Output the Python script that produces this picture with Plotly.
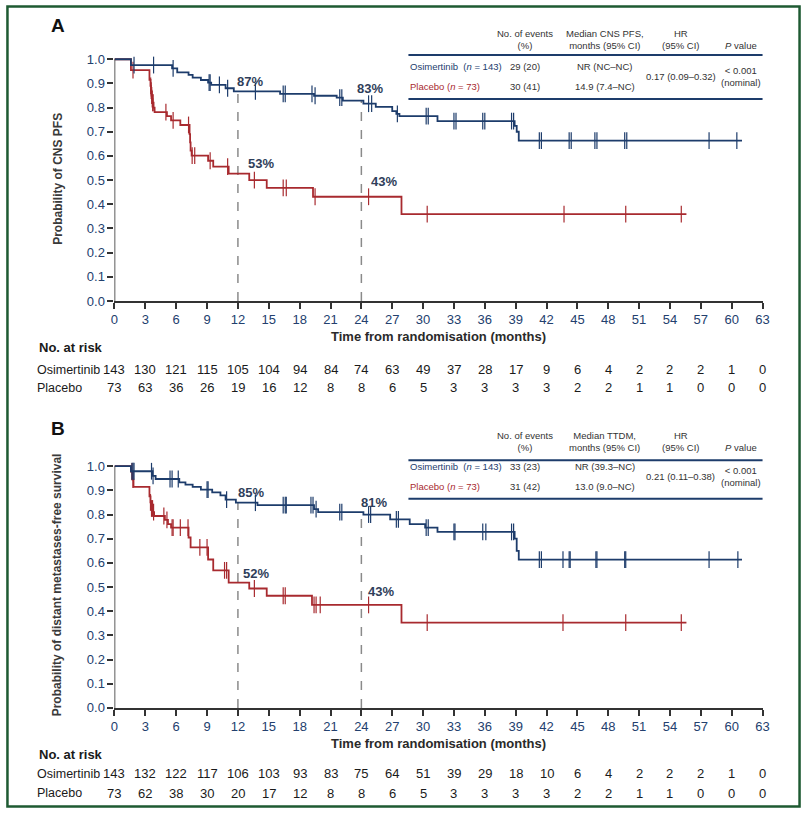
import plotly.graph_objects as go

W, H = 810, 818

# ---------------- data ----------------
month_ticks = list(range(0, 64, 3))
prob_ticks = [round(i * 0.1, 1) for i in range(11)]

# Panel A: CNS PFS
osiA_t = [0, 1.6, 5.6, 6.1, 7.2, 7.6, 8.4, 9.1, 9.4, 10.8, 11.6, 16.1, 19.4, 21.6, 22.2, 24.2, 25.4, 27.0, 27.4, 27.7, 31.4, 38.9, 39.1, 39.3]
osiA_s = [1.0, 0.976, 0.962, 0.946, 0.935, 0.924, 0.914, 0.903, 0.894, 0.880, 0.867, 0.857, 0.849, 0.841, 0.829, 0.816, 0.803, 0.785, 0.774, 0.765, 0.744, 0.724, 0.700, 0.663]
osiA_end = 61.0
osiA_c = [1.9, 3.8, 5.7, 9.2, 9.3, 10.2, 11.0, 13.7, 16.4, 16.6, 19.2, 19.5, 21.9, 22.1, 24.7, 25.0, 27.5,
          30.3, 30.5, 33.0, 33.2, 35.8, 36.0, 38.6, 38.8, 41.3, 41.5, 44.2, 44.4, 46.7, 46.9, 49.6, 49.8, 57.8, 60.5]

plaA_t = [0, 1.6, 3.4, 3.5, 3.55, 3.6, 3.65, 3.7, 3.8, 3.9, 5.1, 5.5, 6.4, 7.3, 7.35, 7.4, 7.5, 9.1, 9.6, 11.1, 13.1, 14.8, 19.3, 27.9]
plaA_s = [1.0, 0.955, 0.915, 0.89, 0.87, 0.85, 0.835, 0.82, 0.80, 0.781, 0.765, 0.747, 0.728, 0.69, 0.656, 0.622, 0.601, 0.58, 0.556, 0.527, 0.50, 0.468, 0.431, 0.359]
plaA_end = 55.6
plaA_c = [1.8, 3.52, 3.57, 3.62, 3.67, 3.72, 3.75, 5.0, 5.7, 7.2, 7.55, 7.8, 9.3, 11.0, 13.6, 16.4, 16.7, 19.5, 24.7,
          30.4, 43.7, 49.7, 55.1]

# Panel B: distant metastases-free survival
osiB_t = [0, 1.6, 3.7, 4.0, 6.3, 6.9, 7.6, 8.4, 9.5, 10.3, 10.8, 11.8, 13.9, 19.4, 19.8, 24.2, 26.8, 28.7, 30.2, 31.4, 38.9, 39.1, 39.3]
osiB_s = [1.0, 0.979, 0.96, 0.947, 0.933, 0.924, 0.914, 0.903, 0.892, 0.879, 0.862, 0.849, 0.839, 0.822, 0.81, 0.80, 0.78, 0.76, 0.746, 0.728, 0.70, 0.65, 0.613]
osiB_end = 61.0
osiB_c = [1.7, 1.8, 1.9, 3.6, 3.75, 5.4, 5.6, 6.2, 9.0, 9.1, 10.9, 13.7, 16.4, 16.6, 16.7, 19.1, 19.3, 19.6, 21.9, 22.1,
          24.7, 24.9, 27.4, 27.6, 30.3, 30.5, 33.0, 33.1, 35.8, 36.1, 38.6, 38.8, 41.3, 41.5, 43.6, 44.2, 44.3,
          46.8, 46.9, 49.6, 49.7, 57.8, 60.6]

plaB_t = [0, 1.6, 1.75, 1.85, 3.4, 3.5, 3.6, 3.75, 3.85, 4.9, 5.2, 5.5, 7.2, 7.4, 9.1, 9.6, 11.1, 13.1, 14.8, 19.2, 27.9]
plaB_s = [1.0, 0.978, 0.944, 0.914, 0.875, 0.85, 0.825, 0.81, 0.794, 0.778, 0.76, 0.746, 0.705, 0.664, 0.614, 0.569, 0.518, 0.494, 0.464, 0.426, 0.353]
plaB_end = 55.6
plaB_c = [1.7, 1.8, 3.5, 3.6, 3.7, 3.8, 4.8, 5.1, 5.6, 5.7, 6.4, 7.15, 8.3, 9.0, 10.7, 10.9, 13.6, 16.4, 16.6, 19.4,
          19.6, 20.0, 24.7, 30.4, 43.6, 49.7, 55.1]

landmarks = [12, 24]

# numbers at risk
riskA_osi = [143, 130, 121, 115, 105, 104, 94, 84, 74, 63, 49, 37, 28, 17, 9, 6, 4, 2, 2, 2, 1, 0]
riskA_pla = [73, 63, 36, 26, 19, 16, 12, 8, 8, 6, 5, 3, 3, 3, 3, 2, 2, 1, 1, 0, 0, 0]
riskB_osi = [143, 132, 122, 117, 106, 103, 93, 83, 75, 64, 51, 39, 29, 18, 10, 6, 4, 2, 2, 2, 1, 0]
riskB_pla = [73, 62, 38, 30, 20, 17, 12, 8, 8, 6, 5, 3, 3, 3, 3, 2, 2, 1, 1, 0, 0, 0]

# summary tables
group_labels = ["Osimertinib  (<i>n</i> = 143)", "Placebo (<i>n</i> = 73)"]
tbl_headers_A = ["No. of events<br>(%)", "Median CNS PFS,<br>months (95% CI)", "HR<br>(95% CI)", "<i>P</i> value"]
tbl_headers_B = ["No. of events<br>(%)", "Median TTDM,<br>months (95% CI)", "HR<br>(95% CI)", "<i>P</i> value"]
eventsA = ["29 (20)", "30 (41)"]
medianA = ["NR (NC–NC)", "14.9 (7.4–NC)"]
hrA = "0.17 (0.09–0.32)"
eventsB = ["33 (23)", "31 (42)"]
medianB = ["NR (39.3–NC)", "13.0 (9.0–NC)"]
hrB = "0.21 (0.11–0.38)"
pval = "< 0.001<br>(nominal)"

# ---------------- style ----------------
BLUE = "#1d3c6b"
RED = "#a82a2f"
NAVY_TXT = "#23406e"
DARK = "#333333"
FONT = "Liberation Sans, Arial, sans-serif"


def py(Y):
    return 1 - Y / H


def px(X):
    return X / W


def step_at(ts, ss, x):
    v = ss[0]
    for t, s in zip(ts, ss):
        if t <= x:
            v = s
    return v


fig = go.Figure()


def add_km(ts, ss, end, cens, color, xa, ya):
    fig.add_trace(go.Scatter(x=ts + [end], y=ss + [ss[-1]], mode="lines", line=dict(color=color, width=1.8, shape="hv"),
                             xaxis=xa, yaxis=ya, showlegend=False, hoverinfo="skip"))
    fig.add_trace(go.Scatter(x=cens, y=[step_at(ts, ss, c) for c in cens], mode="markers",
                             marker=dict(symbol="line-ns-open", size=12, color=color, line=dict(color=color, width=1.2)),
                             xaxis=xa, yaxis=ya, showlegend=False, hoverinfo="skip", cliponaxis=False))


add_km(plaA_t, plaA_s, plaA_end, plaA_c, RED, "x", "y")
add_km(osiA_t, osiA_s, osiA_end, osiA_c, BLUE, "x", "y")
add_km(plaB_t, plaB_s, plaB_end, plaB_c, RED, "x2", "y2")
add_km(osiB_t, osiB_s, osiB_end, osiB_c, BLUE, "x2", "y2")

# axes geometry (pixels)
X0, X1 = 112, 769
PPU = 245  # pixels per probability unit
A_BOT, B_BOT = 302, 714.5
YMAX = 1.02

axis_common = dict(range=[0, 63], tickvals=month_ticks, ticks="outside", ticklen=6, tickwidth=1.5, tickcolor=DARK,
                   showline=True, linecolor=DARK, linewidth=1.6, showgrid=False, zeroline=False,
                   tickfont=dict(family=FONT, size=13, color=NAVY_TXT), domain=[px(X0), px(X1)], fixedrange=True)
yaxis_common = dict(range=[0, YMAX], tickvals=prob_ticks, tickformat=".1f", ticks="outside", ticklen=6, tickwidth=1.5,
                    tickcolor=DARK, showline=False, showgrid=False, zeroline=False,
                    tickfont=dict(family=FONT, size=13, color=NAVY_TXT), fixedrange=True)

fig.update_layout(
    width=W, height=H, margin=dict(l=0, r=0, t=0, b=0),
    paper_bgcolor="white", plot_bgcolor="white", showlegend=False,
    xaxis=dict(axis_common, anchor="y"),
    yaxis=dict(yaxis_common, anchor="x", domain=[py(A_BOT), py(A_BOT - YMAX * PPU)]),
    xaxis2=dict(axis_common, anchor="y2"),
    yaxis2=dict(yaxis_common, anchor="x2", domain=[py(B_BOT), py(B_BOT - YMAX * PPU)]),
)

shapes = []
# y axis lines (0 to 1.0)
for xr, yr in (("x", "y"), ("x2", "y2")):
    shapes.append(dict(type="line", xref=xr, yref=yr, x0=0, x1=0, y0=0, y1=1.0, line=dict(color=DARK, width=1.6)))

annotations = []

# landmark dashed lines and percentages
panels = [
    ("x", "y", osiA_t, osiA_s, plaA_t, plaA_s, [(-3, 10), (-6, 12)], [(8, 10), (8, 15)]),
    ("x2", "y2", osiB_t, osiB_s, plaB_t, plaB_s, [(-2, 10.5), (-2, 10)], [(3, 9), (5, 13)]),
]
for xr, yr, ot, os_, pt, ps, ooff, poff in panels:
    for i, lm in enumerate(landmarks):
        vo = step_at(ot, os_, lm)
        vp = step_at(pt, ps, lm)
        shapes.append(dict(type="line", xref=xr, yref=yr, x0=lm, x1=lm, y0=0, y1=vo, layer="below",
                           line=dict(color="#8a8a8a", width=1.5, dash="dash")))
        for v, (dx, dy) in ((vo, ooff[i]), (vp, poff[i])):
            annotations.append(dict(xref=xr, yref=yr, x=lm, y=v, text=f"<b>{round(v * 100)}%</b>", showarrow=False,
                                    xanchor="left", yanchor="middle", xshift=dx, yshift=dy,
                                    font=dict(family=FONT, size=13, color="#2f3e5a")))

# panel letters
annotations.append(dict(xref="paper", yref="paper", x=px(55), y=py(23), text="<b>A</b>", showarrow=False,
                        xanchor="center", yanchor="middle", font=dict(family=FONT, size=19, color="#111111")))
annotations.append(dict(xref="paper", yref="paper", x=px(55), y=py(431), text="<b>B</b>", showarrow=False,
                        xanchor="center", yanchor="middle", font=dict(family=FONT, size=19, color="#111111")))

# y titles
annotations.append(dict(xref="paper", yref="paper", x=px(54), y=py(178), text="<b>Probability of CNS PFS</b>",
                        textangle=-90, showarrow=False, xanchor="center", yanchor="middle",
                        font=dict(family=FONT, size=12, color="#3a3a3a")))
annotations.append(dict(xref="paper", yref="paper", x=px(54), y=py(590),
                        text="<b>Probability of distant metastases-free survival</b>",
                        textangle=-90, showarrow=False, xanchor="center", yanchor="middle",
                        font=dict(family=FONT, size=12, color="#3a3a3a")))

# x titles + risk tables
for xr, t_y, nar_y, osi_y, pla_y, r_osi, r_pla in (("x", 338.5, 349, 371.5, 390, riskA_osi, riskA_pla),
                                                   ("x2", 751, 762, 781.5, 801, riskB_osi, riskB_pla)):
    annotations.append(dict(xref=xr, yref="paper", x=31.5, y=py(t_y), text="<b>Time from randomisation (months)</b>",
                            showarrow=False, xanchor="center", yanchor="middle",
                            font=dict(family=FONT, size=13, color="#2a2a2a")))
    annotations.append(dict(xref="paper", yref="paper", x=px(33), y=py(nar_y), text="<b>No. at risk</b>",
                            showarrow=False, xanchor="left", yanchor="middle",
                            font=dict(family=FONT, size=13, color="#1a1a1a")))
    for lab, yy in (("Osimertinib", osi_y), ("Placebo", pla_y)):
        annotations.append(dict(xref="paper", yref="paper", x=px(32), y=py(yy), text=lab, showarrow=False,
                                xanchor="left", yanchor="middle", borderpad=0,
                                font=dict(family=FONT, size=12.5, color="#1a1a1a")))
    for m, a, b in zip(month_ticks, r_osi, r_pla):
        annotations.append(dict(xref=xr, yref="paper", x=m, y=py(osi_y), text=str(a), showarrow=False,
                                xanchor="center", yanchor="middle", borderpad=0,
                                font=dict(family=FONT, size=13, color="#1a1a1a")))
        annotations.append(dict(xref=xr, yref="paper", x=m, y=py(pla_y), text=str(b), showarrow=False,
                                xanchor="center", yanchor="middle", borderpad=0,
                                font=dict(family=FONT, size=13, color="#1a1a1a")))

# summary tables
TF = 9.5
for headers, events, median, hr, h_y, top_line, r1, r2, bot_line in (
        (tbl_headers_A, eventsA, medianA, hrA, 36.5, 52.7, 64.3, 84.3, 97.2),
        (tbl_headers_B, eventsB, medianB, hrB, 444, 463.5, 469.5, 490.5, 502.5)):
    col_x = [528, 609, 686, 747]
    for i, (hx, htxt) in enumerate(zip(col_x, headers)):
        yy = h_y if i < 3 else h_y + 6.3
        annotations.append(dict(xref="paper", yref="paper", x=px(hx), y=py(yy), text=htxt, showarrow=False,
                                xanchor="center", yanchor="middle", align="center",
                                font=dict(family=FONT, size=TF, color=DARK)))
    for lab, col, yy in ((group_labels[0], NAVY_TXT, r1), (group_labels[1], RED, r2)):
        annotations.append(dict(xref="paper", yref="paper", x=px(410), y=py(yy), text=lab, showarrow=False,
                                xanchor="left", yanchor="middle", font=dict(family=FONT, size=TF, color=col)))
    for j, yy in enumerate((r1, r2)):
        annotations.append(dict(xref="paper", yref="paper", x=px(528), y=py(yy), text=events[j], showarrow=False,
                                xanchor="center", yanchor="middle", font=dict(family=FONT, size=TF, color=DARK)))
        annotations.append(dict(xref="paper", yref="paper", x=px(609), y=py(yy), text=median[j], showarrow=False,
                                xanchor="center", yanchor="middle", font=dict(family=FONT, size=TF, color=DARK)))
    mid = (r1 + r2) / 2
    annotations.append(dict(xref="paper", yref="paper", x=px(686), y=py(mid), text=hr, showarrow=False,
                            xanchor="center", yanchor="middle", font=dict(family=FONT, size=TF, color=DARK)))
    annotations.append(dict(xref="paper", yref="paper", x=px(747), y=py(mid), text=pval, showarrow=False,
                            xanchor="center", yanchor="middle", align="center",
                            font=dict(family=FONT, size=TF, color=DARK)))
    for ly in (top_line, bot_line):
        shapes.append(dict(type="line", xref="paper", yref="paper", x0=px(410), x1=px(769), y0=py(ly), y1=py(ly),
                           line=dict(color=BLUE, width=2)))

# outer green border
shapes.append(dict(type="rect", xref="paper", yref="paper", x0=px(3.5), x1=px(806.5), y0=py(814.5), y1=py(3.5),
                   line=dict(color="#1e5a32", width=2.5)))

fig.update_layout(shapes=shapes, annotations=annotations)

page_fix = ("document.documentElement.style.margin='0';document.documentElement.style.overflow='hidden';"
            "document.body.style.margin='0';document.body.style.padding='0';document.body.style.overflow='hidden';"
            "var gd=document.getElementById('{plot_id}');gd.style.position='fixed';gd.style.left='0px';gd.style.top='0px';")
fig.write_html("out.html", config={"displayModeBar": False}, post_script=page_fix)
